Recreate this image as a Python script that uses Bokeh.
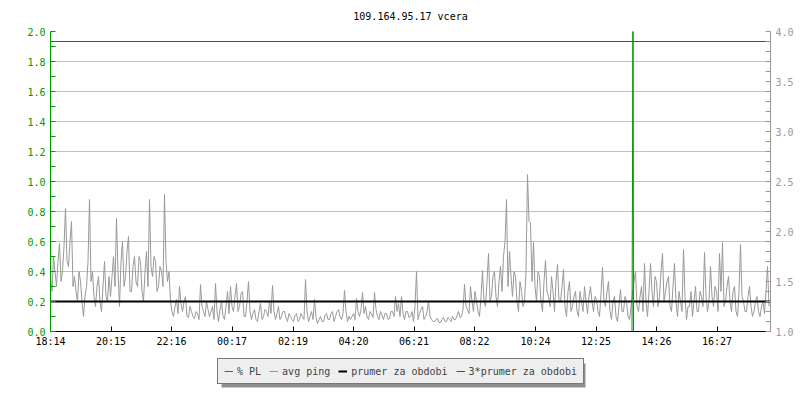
from bokeh.plotting import figure
from bokeh.layouts import column
from bokeh.models import (Range1d, LinearAxis, FixedTicker, PrintfTickFormatter,
                          Legend, LegendItem, ColumnDataSource, BoxAnnotation)
from bokeh.embed import file_html
from bokeh.resources import INLINE

title_text = "109.164.95.17 vcera"
start_label = "18:14"
period_minutes = 1440
sample_step_min = 6

x_tick_labels = ["18:14", "20:15", "22:16", "00:17", "02:19", "04:20",
                 "06:21", "08:22", "10:24", "12:25", "14:26", "16:27"]
left_ticks = [0.0, 0.2, 0.4, 0.6, 0.8, 1.0, 1.2, 1.4, 1.6, 1.8, 2.0]
left_minor = [0.1, 0.3, 0.5, 0.7, 0.9, 1.1, 1.3, 1.5, 1.7, 1.9]
right_ticks = [1.0, 1.5, 2.0, 2.5, 3.0, 3.5, 4.0]
right_minor = [1.1, 1.2, 1.3, 1.4, 1.6, 1.7, 1.8, 1.9, 2.1, 2.2, 2.3, 2.4,
               2.6, 2.7, 2.8, 2.9, 3.1, 3.2, 3.3, 3.4, 3.6, 3.7, 3.8, 3.9]

series_labels = ["% PL", "avg ping", "prumer za obdobi", "3*prumer za obdobi"]

# avg ping [ms], one value every 6 minutes from 18:14
avg_ping = [
    1.55, 1.75, 1.45, 1.88, 1.60, 2.23, 1.65, 2.10, 1.55, 1.30,
    1.50, 1.15, 1.45, 2.32, 1.60, 1.25, 1.55, 1.20, 1.70, 1.30,
    1.35, 1.75, 2.13, 1.25, 1.90, 1.55, 1.95, 1.40, 1.75, 1.45,
    1.70, 1.30, 1.80, 2.32, 1.55, 1.70, 1.45, 1.60, 2.37, 1.50,
    1.30, 1.15, 1.32, 1.45, 1.20, 1.35, 1.14, 1.20, 1.13, 1.18,
    1.47, 1.20, 1.30, 1.15, 1.25, 1.48, 1.10, 1.30, 1.12, 1.40,
    1.45, 1.20, 1.48, 1.25, 1.40, 1.15, 1.50, 1.12, 1.22, 1.10,
    1.28, 1.15, 1.20, 1.30, 1.46, 1.12, 1.25, 1.15, 1.20, 1.10,
    1.15, 1.10, 1.18, 1.12, 1.15, 1.52, 1.10, 1.20, 1.32, 1.08,
    1.15, 1.10, 1.18, 1.12, 1.20, 1.15, 1.22, 1.12, 1.41, 1.10,
    1.12, 1.18, 1.33, 1.15, 1.39, 1.25, 1.12, 1.18, 1.39, 1.15,
    1.20, 1.12, 1.18, 1.13, 1.20, 1.35, 1.28, 1.35, 1.12, 1.20,
    1.15, 1.10, 1.60, 1.18, 1.25, 1.15, 1.30, 1.12, 1.10, 1.13,
    1.09, 1.14, 1.10, 1.12, 1.15, 1.12, 1.20, 1.15, 1.47, 1.22,
    1.45, 1.20, 1.30, 1.15, 1.61, 1.25, 1.78, 1.35, 1.60, 1.25,
    1.65, 1.75, 2.32, 1.80, 1.35, 1.55, 1.20, 1.40, 1.30, 2.57,
    2.09, 1.89, 1.30, 1.55, 1.20, 1.71, 1.35, 1.55, 1.20, 1.67,
    1.30, 1.62, 1.15, 1.50, 1.25, 1.40, 1.15, 1.30, 1.45, 1.18,
    1.45, 1.20, 1.32, 1.15, 1.64, 1.25, 1.50, 1.12, 1.35, 1.10,
    1.42, 1.20, 1.30, 1.12, 1.38, 1.60, 1.20, 1.45, 1.68, 1.15,
    1.68, 1.25, 1.50, 1.35, 1.78, 1.40, 1.55, 1.20, 1.68, 1.15,
    1.30, 1.82, 1.12, 1.25, 1.15, 1.45, 1.20, 1.35, 1.79, 1.20,
    1.65, 1.25, 1.40, 1.78, 1.89, 1.30, 1.55, 1.20, 1.45, 1.15,
    1.87, 1.30, 1.20, 1.45, 1.15, 1.30, 1.20, 1.25, 1.18, 1.65,
]
# avg ping [ms] read 3 minutes after each value above
avg_ping_mid = [
    1.40, 1.60, 1.70, 1.50, 1.85, 1.70, 1.90, 1.45, 1.40, 1.60,
    1.30, 1.35, 1.70, 1.50, 1.35, 1.45, 1.30, 1.45, 1.35, 1.55,
    1.55, 1.45, 1.60, 1.70, 1.45, 1.80, 1.40, 1.65, 1.50, 1.75,
    1.40, 1.60, 1.45, 1.65, 1.75, 1.40, 1.65, 1.45, 1.70, 1.60,
    1.20, 1.25, 1.18, 1.28, 1.30, 1.15, 1.25, 1.15, 1.20, 1.12,
    1.25, 1.15, 1.22, 1.20, 1.12, 1.20, 1.22, 1.15, 1.25, 1.18,
    1.25, 1.35, 1.20, 1.38, 1.15, 1.30, 1.20, 1.18, 1.12, 1.20,
    1.12, 1.22, 1.15, 1.18, 1.20, 1.18, 1.12, 1.20, 1.14, 1.18,
    1.12, 1.16, 1.10, 1.18, 1.12, 1.20, 1.15, 1.12, 1.14, 1.12,
    1.10, 1.16, 1.12, 1.18, 1.10, 1.20, 1.15, 1.18, 1.20, 1.15,
    1.15, 1.12, 1.20, 1.22, 1.18, 1.15, 1.20, 1.14, 1.22, 1.12,
    1.16, 1.18, 1.12, 1.20, 1.15, 1.20, 1.15, 1.18, 1.20, 1.14,
    1.20, 1.25, 1.12, 1.22, 1.12, 1.20, 1.15, 1.10, 1.12, 1.09,
    1.12, 1.10, 1.14, 1.10, 1.12, 1.16, 1.14, 1.22, 1.25, 1.18,
    1.30, 1.40, 1.20, 1.35, 1.30, 1.50, 1.30, 1.55, 1.35, 1.50,
    1.40, 1.90, 1.45, 1.55, 1.60, 1.30, 1.50, 1.25, 1.60, 2.10,
    1.50, 1.45, 1.60, 1.30, 1.50, 1.40, 1.25, 1.40, 1.50, 1.30,
    1.45, 1.25, 1.40, 1.20, 1.35, 1.20, 1.40, 1.20, 1.30, 1.35,
    1.30, 1.35, 1.20, 1.38, 1.30, 1.40, 1.20, 1.30, 1.15, 1.25,
    1.20, 1.35, 1.15, 1.25, 1.50, 1.25, 1.35, 1.20, 1.30, 1.40,
    1.40, 1.55, 1.25, 1.60, 1.30, 1.50, 1.25, 1.45, 1.30, 1.40,
    1.20, 1.35, 1.25, 1.40, 1.30, 1.20, 1.40, 1.25, 1.35, 1.30,
    1.35, 1.45, 1.20, 1.40, 1.25, 1.45, 1.30, 1.40, 1.20, 1.40,
    1.35, 1.20, 1.35, 1.25, 1.20, 1.35, 1.15, 1.30, 1.40, 1.25,
]
avg_ping_mean = 1.30  # prumer za obdobi [ms]

# packet loss [%] (zero except one incident)
pl_minutes = [0, 1163, 1164, 1165, 1166, 1440]
pl_values = [0.0, 0.0, 1.0, 3.0, 0.0, 0.0]


def to_min(lbl):
    h, m = lbl.split(":")
    sh, sm = start_label.split(":")
    return (int(h) * 60 + int(m) - int(sh) * 60 - int(sm)) % period_minutes


tick_pos = [to_min(l) for l in x_tick_labels]
ping_t, ping_v = [], []
for i, (a, b) in enumerate(zip(avg_ping, avg_ping_mid)):
    ping_t += [i * sample_step_min, i * sample_step_min + sample_step_min / 2]
    ping_v += [a, b]

FONT = "DejaVu Sans Mono"
GREEN = "#009900"
GRAY = "#999999"
RED = "#ff0000"

p = figure(width=800, height=350, output_backend="svg", toolbar_location=None,
           x_range=Range1d(0, period_minutes), y_range=Range1d(0, 2.0),
           min_border_left=50, min_border_right=30, min_border_top=31,
           min_border_bottom=19, title=title_text)
p.title.align = "center"
p.title.vertical_align = "top"
p.title.text_font = FONT
p.title.text_font_size = "10px"
p.title.text_font_style = "normal"
p.title.text_color = "black"
p.title.standoff = 16
p.outline_line_color = None
p.background_fill_color = "white"
p.border_fill_color = "white"

p.extra_y_ranges = {"ms": Range1d(1.0, 4.0)}

# bottom axis
xa = p.xaxis[0]
xa.ticker = FixedTicker(ticks=tick_pos)
xa.major_label_overrides = {t: l for t, l in zip(tick_pos, x_tick_labels)}
xa.axis_line_color = "black"
xa.major_tick_line_color = "black"
xa.major_tick_in = 5
xa.major_tick_out = 0
xa.minor_tick_line_color = None
xa.major_label_text_font = FONT
xa.major_label_text_font_size = "10px"
xa.major_label_text_color = "black"
xa.major_label_standoff = 4

# left axis
ya = p.yaxis[0]
ya.ticker = FixedTicker(ticks=left_ticks, minor_ticks=left_minor)
ya.formatter = PrintfTickFormatter(format="%.1f")
ya.axis_line_color = GREEN
ya.major_tick_line_color = GREEN
ya.minor_tick_line_color = GREEN
ya.major_tick_in = 5
ya.major_tick_out = 0
ya.minor_tick_in = 5
ya.minor_tick_out = 0
ya.major_label_text_font = FONT
ya.major_label_text_font_size = "10px"
ya.major_label_text_color = GREEN
ya.major_label_standoff = 5

# right axis
ra = LinearAxis(y_range_name="ms",
                ticker=FixedTicker(ticks=right_ticks, minor_ticks=right_minor),
                formatter=PrintfTickFormatter(format="%.1f"))
ra.axis_line_color = GRAY
ra.major_tick_line_color = GRAY
ra.minor_tick_line_color = GRAY
ra.major_tick_in = 5
ra.major_tick_out = 0
ra.minor_tick_in = 5
ra.minor_tick_out = 0
ra.major_label_text_font = FONT
ra.major_label_text_font_size = "10px"
ra.major_label_text_color = GRAY
ra.major_label_standoff = 5
p.add_layout(ra, "right")

p.xgrid.visible = False
p.ygrid.grid_line_color = "#c0c0c0"
p.ygrid.grid_line_width = 1

ping_src = ColumnDataSource(dict(t=ping_t, v=ping_v))
mean_src = ColumnDataSource(dict(t=[0, period_minutes], v=[avg_ping_mean] * 2,
                                 v3=[3 * avg_ping_mean] * 2))
pl_src = ColumnDataSource(dict(t=pl_minutes, v=pl_values))

p.line("t", "v", source=ping_src, y_range_name="ms", line_color=GRAY, line_width=1)
p.line("t", "v3", source=mean_src, y_range_name="ms", line_color=RED, line_width=1)
p.line("t", "v", source=mean_src, y_range_name="ms", line_color="black", line_width=2)
p.line("t", "v", source=pl_src, line_color=GREEN, line_width=1)

# legend strip below the chart (its glyphs share the chart's data, drawn out of view)
q = figure(width=800, height=50, output_backend="svg", toolbar_location=None,
           x_range=Range1d(-20, -10), y_range=Range1d(0, 1),
           x_axis_location=None, y_axis_location=None,
           min_border_left=0, min_border_right=0, min_border_top=0,
           min_border_bottom=0)
q.grid.visible = False
q.outline_line_color = None
q.border_fill_color = "white"
q.background_fill_color = "white"

lr_pl = q.line("t", "v", source=pl_src, line_color=GREEN, line_width=1)
lr_ping = q.line("t", "v", source=ping_src, line_color=GRAY, line_width=1)
lr_avg = q.line("t", "v", source=mean_src, line_color="black", line_width=2)
lr_avg3 = q.line("t", "v3", source=mean_src, line_color=RED, line_width=1)

shadow = BoxAnnotation(left=171, right=535, bottom=13, top=37,
                       left_units="screen", right_units="screen",
                       bottom_units="screen", top_units="screen",
                       fill_color="#909090", fill_alpha=1.0, line_color=None)
q.add_layout(shadow)

legend = Legend(items=[LegendItem(label=l, renderers=[r]) for l, r in
                       zip(series_labels, [lr_pl, lr_ping, lr_avg, lr_avg3])],
                orientation="horizontal", location=(167, 16))
legend.label_text_font = FONT
legend.label_text_font_size = "10px"
legend.label_height = 12
legend.glyph_height = 12
legend.glyph_width = 9
legend.label_standoff = 4
legend.spacing = 8
legend.padding = 6
legend.margin = 0
legend.border_line_color = "black"
legend.border_line_width = 1
legend.background_fill_color = "#eeeeee"
legend.background_fill_alpha = 1.0
q.add_layout(legend)

layout = column(p, q, spacing=0)
open("out.html", "w").write(file_html(layout, INLINE))
